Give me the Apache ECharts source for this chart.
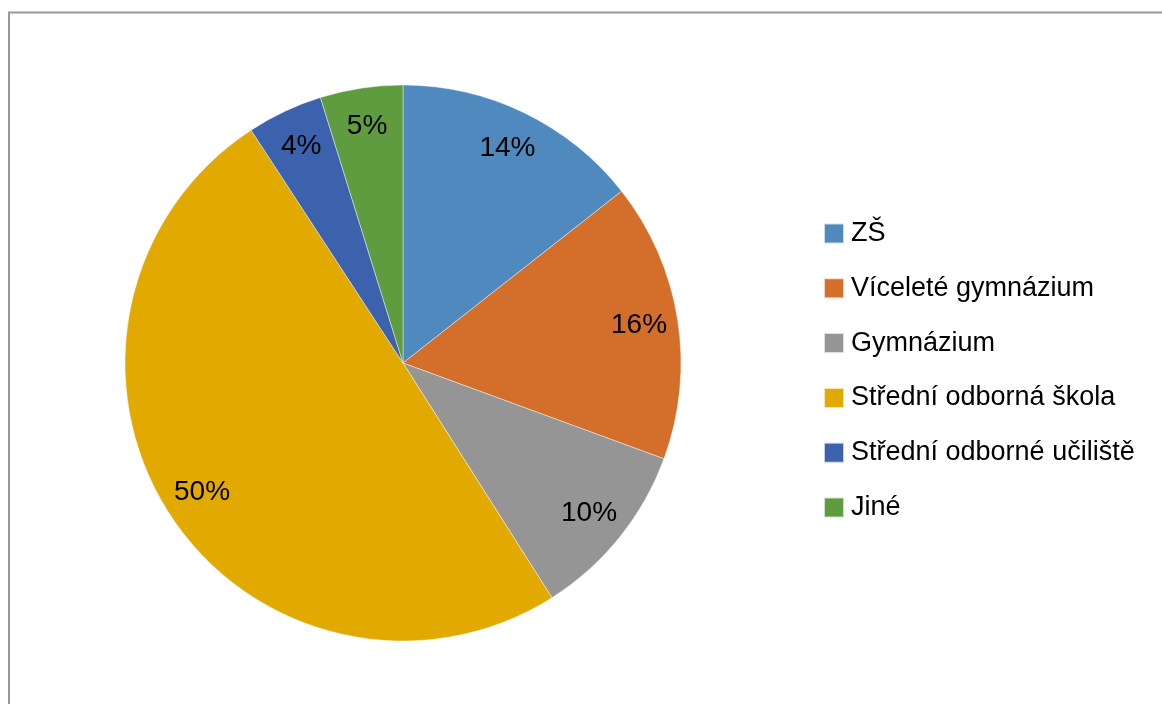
<!DOCTYPE html>
<html><head><meta charset="utf-8">
<script src="https://cdn.jsdelivr.net/npm/echarts@6/dist/echarts.min.js"></script>
<style>html,body{margin:0;padding:0;background:#fff}#c{width:1162px;height:704px}</style>
</head><body><div id="c"></div>
<script>
const categories = ['ZŠ', 'Víceleté gymnázium', 'Gymnázium', 'Střední odborná škola', 'Střední odborné učiliště', 'Jiné'];
const values = [14.4, 16.2, 10.4, 49.8, 4.4, 4.8];
const colors = ['#4F89BD', '#D46E2B', '#959595', '#E2AA00', '#3C62AD', '#5F9B3F'];

const font = 'Liberation Sans, Arial, sans-serif';
const data = categories.map((n, i) => ({ name: n, value: values[i], itemStyle: { color: colors[i] } }));
const labelData = categories.map((n, i) => ({ name: n, value: values[i] }));

const chart = echarts.init(document.getElementById('c'), null, { renderer: 'canvas' });
chart.setOption({
  animation: false,
  backgroundColor: '#fff',
  graphic: [{
    type: 'rect', silent: true, z: 100,
    shape: { x: 9, y: 12.5, width: 1300, height: 900 },
    style: { fill: 'none', stroke: '#999', lineWidth: 2 }
  }],
  legend: {
    orient: 'vertical', left: 823, top: 220, padding: 0,
    itemWidth: 20, itemHeight: 20, itemGap: 27.8,
    icon: 'rect',
    data: categories,
    textStyle: { fontFamily: font, fontSize: 27, color: '#000', lineHeight: 26, padding: [0, 0, 0, 2] }
  },
  series: [{
    type: 'pie', center: [403, 363], radius: [0, 278],
    startAngle: 90, clockwise: true, silent: true,
    data: data,
    itemStyle: { borderColor: 'rgba(255,255,255,0.7)', borderWidth: 0.6 },
    label: { show: false }, labelLine: { show: false }
  }, {
    type: 'pie', center: [403, 363], radius: [194, 278],
    startAngle: 90, clockwise: true, silent: true,
    data: labelData,
    itemStyle: { color: 'rgba(0,0,0,0)' },
    label: {
      show: true, position: 'inside',
      fontFamily: font, fontSize: 28, color: '#000',
      formatter: p => Math.round(p.percent) + '%'
    },
    labelLine: { show: false }
  }]
});
</script></body></html>
